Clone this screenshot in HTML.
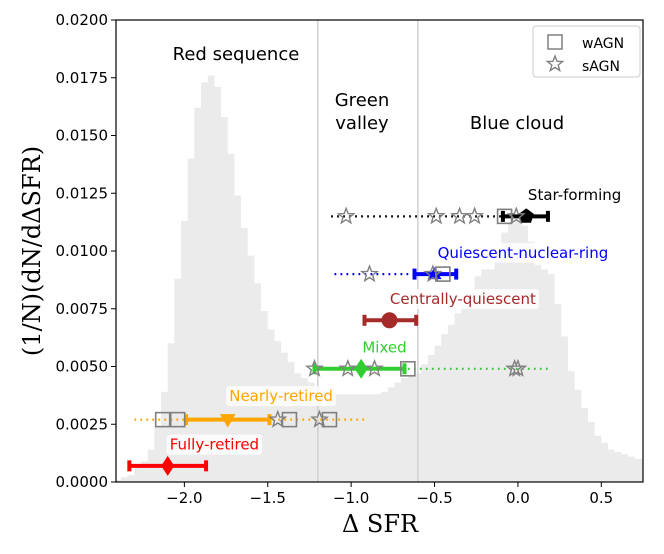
<!DOCTYPE html>
<html><head><meta charset="utf-8"><style>
body{margin:0;background:#fff}
svg{display:block;font-family:"DejaVu Sans","Liberation Sans",sans-serif}
</style></head><body>
<svg id="chart" width="664" height="554" viewBox="0 0 664 554" xmlns="http://www.w3.org/2000/svg">
<g id="hist"></g>
<line id="vl1" stroke="#d0d0d0" stroke-width="1.5"/>
<line id="vl2" stroke="#d0d0d0" stroke-width="1.5"/>
<text x="236" y="60" font-size="18" text-anchor="middle">Red sequence</text>
<text x="362" y="106" font-size="18" text-anchor="middle">Green</text>
<text x="362" y="129" font-size="18" text-anchor="middle">valley</text>
<text x="517" y="129" font-size="18" text-anchor="middle">Blue cloud</text>
<g id="series"></g>
<g id="axes"></g>
<g>
<rect x="533" y="26" width="107" height="51" rx="3" fill="#fff" fill-opacity="0.8" stroke="#ccc"/>
<rect x="548" y="35" width="14" height="14" fill="none" stroke="#808080" stroke-width="1.5"/>
<text x="582" y="48" font-size="14">wAGN</text>
<g id="legstar"></g>
<text x="582" y="71" font-size="14">sAGN</text>
</g>
<text x="380" y="532" font-family="'DejaVu Serif','Liberation Serif',serif" font-size="24" text-anchor="middle">Δ SFR</text>
<text transform="translate(40,251) rotate(-90)" font-family="'DejaVu Serif','Liberation Serif',serif" font-size="24" text-anchor="middle">(1/N)(dN/dΔSFR)</text>
</svg>
<script>
const histCenters=[-2.40,-2.36,-2.32,-2.28,-2.24,-2.20,-2.16,-2.12,-2.08,-2.04,-2.00,-1.96,-1.92,-1.88,-1.84,-1.80,-1.76,-1.72,-1.68,-1.64,-1.60,-1.56,-1.52,-1.48,-1.44,-1.40,-1.36,-1.32,-1.28,-1.24,-1.20,-1.16,-1.12,-1.08,-1.04,-1.00,-0.96,-0.92,-0.88,-0.84,-0.80,-0.76,-0.72,-0.68,-0.64,-0.60,-0.56,-0.52,-0.48,-0.44,-0.40,-0.36,-0.32,-0.28,-0.24,-0.20,-0.16,-0.12,-0.08,-0.04,0.00,0.04,0.08,0.12,0.16,0.20,0.24,0.28,0.32,0.36,0.40,0.44,0.48,0.52,0.56,0.60,0.64,0.68,0.72,0.76];
const histValues=[0.0001,0.0002,0.0003,0.0006,0.0009,0.0014,0.0024,0.0039,0.006,0.0088,0.0113,0.014,0.0162,0.0173,0.0176,0.0171,0.0158,0.0142,0.0124,0.011,0.0098,0.0086,0.0074,0.0066,0.0061,0.0056,0.0052,0.0047,0.0045,0.0043,0.0041,0.004,0.0038,0.0038,0.0038,0.0038,0.0038,0.0038,0.0038,0.0038,0.0039,0.0041,0.0043,0.0045,0.0046,0.0047,0.0051,0.0055,0.0059,0.0064,0.0068,0.0073,0.0077,0.0082,0.0089,0.0092,0.0092,0.0095,0.0108,0.0112,0.0113,0.0111,0.0104,0.0094,0.0092,0.009,0.0077,0.0063,0.0048,0.004,0.0032,0.0026,0.002,0.0017,0.0014,0.0013,0.0012,0.0011,0.001,0.001];
const groupNames=["Star-forming","Quiescent-nuclear-ring","Centrally-quiescent","Mixed","Nearly-retired","Fully-retired"];
const groupY=[0.0115,0.0090,0.0070,0.0049,0.0027,0.0007];
const groupMean=[0.05,-0.50,-0.77,-0.94,-1.74,-2.10];
const groupLo=[-0.09,-0.62,-0.92,-1.22,-1.99,-2.33];
const groupHi=[0.18,-0.37,-0.61,-0.68,-1.49,-1.87];
const dotLo=[-1.12,-1.10,null,-0.66,-2.30,null];
const dotHi=[-0.10,-0.62,null,0.20,-0.90,null];
const wagnX=[[-0.08],[-0.45],[],[-0.66],[-2.13,-2.04,-1.37,-1.13],[]];
const sagnX=[[-1.03,-0.49,-0.35,-0.26,-0.01],[-0.89,-0.51],[],[-1.22,-1.02,-0.86,-0.02,0.0],[-1.44,-1.19],[]];
const groupColors=["#000000","#0000ff","#a52a2a","#32cd32","#ffa500","#ff0000"];
const groupMarkers=["pentagon","triangle","circle","diamond","tridown","diamond"];
const labelX=[0.34,0.03,-0.33,-0.80,-1.42,-1.82];
const labelY=[0.0122,0.0097,0.0077,0.0056,0.0035,0.0014];
const xTicks=[-2.0,-1.5,-1.0,-0.5,0.0,0.5];
const xTickLabels=["−2.0","−1.5","−1.0","−0.5","0.0","0.5"];
const yTicks=[0,0.0025,0.005,0.0075,0.01,0.0125,0.015,0.0175,0.02];
const yTickLabels=["0.0000","0.0025","0.0050","0.0075","0.0100","0.0125","0.0150","0.0175","0.0200"];
const vLines=[-1.2,-0.6];

const L=116,R=643,T=20,B=482,xmin=-2.41,xmax=0.75,ymax=0.02;
const xs=v=>L+(v-xmin)/(xmax-xmin)*(R-L);
const ys=v=>B-v/ymax*(B-T);
const NS="http://www.w3.org/2000/svg";
function mk(tag,attrs,parent){const e=document.createElementNS(NS,tag);for(const k in attrs)e.setAttribute(k,attrs[k]);parent.appendChild(e);return e;}
const hist=document.getElementById('hist');
let d="M"+xs(xmin)+","+ys(0);
const bw=0.04;
histCenters.forEach((c,i)=>{const x0=Math.max(xs(c-bw/2),L),x1=Math.min(xs(c+bw/2),R);const y=ys(histValues[i]);d+=" L"+x0+","+y+" L"+x1+","+y;});
d+=" L"+R+","+ys(0)+" Z";
const hp=mk('path',{d:d,fill:"#ebebeb"},hist);


vLines.forEach((v,i)=>{const l=document.getElementById(i?'vl2':'vl1');l.setAttribute('x1',xs(v));l.setAttribute('x2',xs(v));l.setAttribute('y1',T);l.setAttribute('y2',B);});
function starPts(cx,cy,r){let p=[];for(let k=0;k<10;k++){const a=-Math.PI/2+k*Math.PI/5;const rr=k%2?r*0.42:r;p.push((cx+rr*Math.cos(a)).toFixed(1)+","+(cy+rr*Math.sin(a)).toFixed(1));}return p.join(" ");}
function polyPts(cx,cy,r,n,rot){let p=[];for(let k=0;k<n;k++){const a=rot+k*2*Math.PI/n;p.push((cx+r*Math.cos(a)).toFixed(1)+","+(cy+r*Math.sin(a)).toFixed(1));}return p.join(" ");}
const ser=document.getElementById('series');
groupNames.forEach((name,i)=>{
  const g=mk('g',{},ser);
  
  
  const y=ys(groupY[i]),c=groupColors[i];
  if(dotLo[i]!==null){const dl=mk('line',{x1:xs(dotLo[i]),x2:xs(dotHi[i]),y1:y,y2:y,stroke:c,"stroke-width":2.2,"stroke-dasharray":"1.8,4.2"},g);
    
    }
  const eb=mk('line',{x1:xs(groupLo[i]),x2:xs(groupHi[i]),y1:y,y2:y,stroke:c,"stroke-width":4},g);
  
  
  [groupLo[i],groupHi[i]].forEach(v=>{const cp=mk('line',{x1:xs(v),x2:xs(v),y1:y-5.5,y2:y+5.5,stroke:c,"stroke-width":4},g);
    
    });
  const mx=xs(groupMean[i]);let m;const mt=groupMarkers[i];
  if(mt==="circle")m=mk('circle',{cx:mx,cy:y,r:8,fill:c},g);
  else if(mt==="diamond")m=mk('polygon',{points:`${mx},${y-10} ${mx+6.5},${y} ${mx},${y+10} ${mx-6.5},${y}`,fill:c},g);
  else if(mt==="pentagon")m=mk('polygon',{points:polyPts(mx,y,8,5,-Math.PI/2),fill:c},g);
  else if(mt==="triangle")m=mk('polygon',{points:polyPts(mx,y+1,8,3,-Math.PI/2),fill:c},g);
  else m=mk('polygon',{points:polyPts(mx,y-1,9,3,Math.PI/2),fill:c},g);
  
  
  wagnX[i].forEach(v=>{const s=mk('rect',{x:xs(v)-7,y:y-7,width:14,height:14,fill:"none",stroke:"#808080","stroke-width":1.6},g);
    
    });
  sagnX[i].forEach(v=>{const s=mk('polygon',{points:starPts(xs(v),y,8),fill:"none",stroke:"#808080","stroke-width":1.4},g);
    
    });
  const tx=xs(labelX[i]),ty=ys(labelY[i]);
  const bg=mk('rect',{fill:"#fff","fill-opacity":0.8,rx:3},g);
  
  
  const t=mk('text',{x:tx,y:ty,fill:c,"font-size":15,"text-anchor":"middle"},g);
  t.textContent=name;
  
  
  const bb=t.getBBox();
  bg.setAttribute('x',bb.x-3);bg.setAttribute('y',bb.y-1);bg.setAttribute('width',bb.width+6);bg.setAttribute('height',bb.height+2);
});
const ls=mk('polygon',{points:starPts(555,64,8),fill:"none",stroke:"#808080","stroke-width":1.4},document.getElementById('legstar'));


const ax=document.getElementById('axes');
const fr=mk('rect',{x:L,y:T,width:R-L,height:B-T,fill:"none",stroke:"#000","stroke-width":1.2},ax);


xTicks.forEach((v,i)=>{mk('line',{x1:xs(v),x2:xs(v),y1:B,y2:B+5,stroke:"#000"},ax);
  const t=mk('text',{x:xs(v),y:B+21,"font-size":15,"text-anchor":"middle"},ax);t.textContent=xTickLabels[i];
  
  });
yTicks.forEach((v,i)=>{mk('line',{x1:L-5,x2:L,y1:ys(v),y2:ys(v),stroke:"#000"},ax);
  const t=mk('text',{x:L-8,y:ys(v)+5,"font-size":15,"text-anchor":"end"},ax);t.textContent=yTickLabels[i];
  
  });
</script>
</body></html>
